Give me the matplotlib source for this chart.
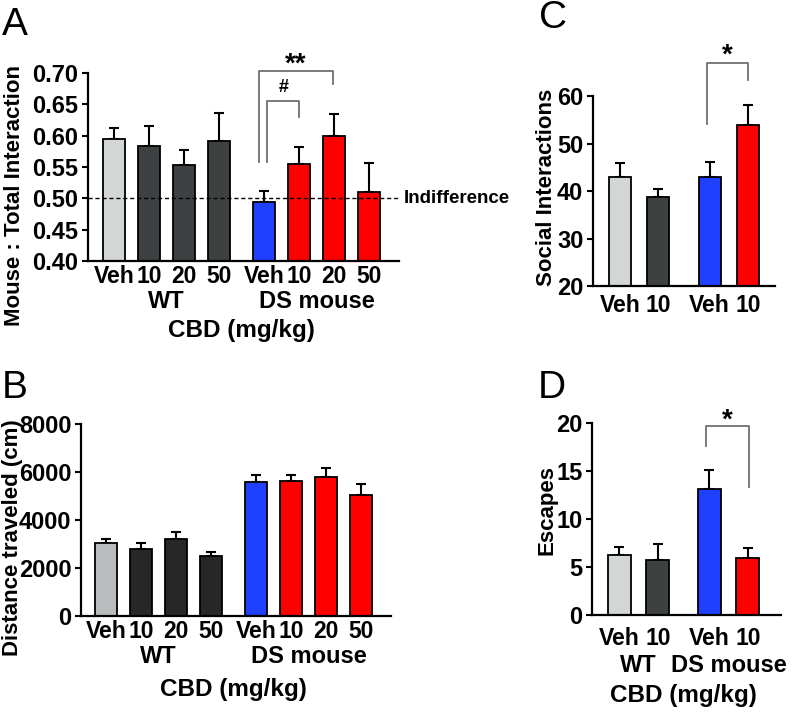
import matplotlib
matplotlib.use("Agg")
import matplotlib.pyplot as plt

plt.rcParams['font.family'] = ['Liberation Sans', 'DejaVu Sans']
plt.rcParams['font.weight'] = 'bold'
plt.rcParams['axes.labelweight'] = 'bold'

# ---- data ----
dose_labels = ["Veh", "10", "20", "50", "Veh", "10", "20", "50"]
dose_labels_short = ["Veh", "10", "Veh", "10"]
groups = ["WT", "DS mouse"]

# A: mouse : total interaction
a_mean = [0.594, 0.584, 0.553, 0.591, 0.494, 0.554, 0.600, 0.510]
a_sem = [0.018, 0.031, 0.024, 0.045, 0.017, 0.028, 0.034, 0.047]

# B: distance traveled (cm)
b_mean = [3030, 2780, 3210, 2490, 5600, 5620, 5810, 5060]
b_sem = [180, 280, 310, 170, 280, 260, 370, 430]

# C: social interactions
c_mean = [42.9, 38.7, 42.9, 54.0]
c_sem = [2.9, 1.7, 3.2, 4.2]

# D: escapes
d_mean = [6.26, 5.74, 13.11, 5.91]
d_sem = [0.80, 1.67, 2.02, 1.08]

LIGHT = "#d3d6d6"
DARK = "#3d4141"
BLUE = "#2040ff"
RED = "#ff0000"
BRACKET = "#707070"

colors_8 = [LIGHT, DARK, DARK, DARK, BLUE, RED, RED, RED]
colors_8b = ["#b9bdbd", "#262828", "#262828", "#262828", BLUE, RED, RED, RED]
colors_4 = [LIGHT, DARK, BLUE, RED]

pos8 = [0, 1, 2, 3, 4.3, 5.3, 6.3, 7.3]
pos4 = [0, 1, 2.34, 3.34]


def bars(ax, x, mean, sem, colors, width):
    ax.bar(x, mean, width=width, color=colors, edgecolor="black", linewidth=1.3, zorder=2)
    ax.errorbar(x, mean, yerr=[[0] * len(sem), sem], fmt="none", ecolor="black",
                elinewidth=1.5, capsize=3.3, capthick=1.5, zorder=1)
    for s in ("top", "right"):
        ax.spines[s].set_visible(False)
    for s in ("left", "bottom"):
        ax.spines[s].set_linewidth(1.6)
    ax.tick_params(axis="y", direction="out", length=4, width=1.5, labelsize=17, pad=3)
    ax.tick_params(axis="x", length=0, labelsize=16.5, pad=3)
    ax.set_xticks(x)


def ylabel(ax, text, xc, yc):
    ax.set_ylabel(text, fontsize=16, va="center")
    ax.yaxis.set_label_coords(xc, yc)


def bracket(ax, x1, x2, ytop, yl, yr, label, size, ty):
    ax.plot([x1, x1, x2, x2], [yl, ytop, ytop, yr], color=BRACKET, lw=1.3, clip_on=False)
    ax.text((x1 + x2) / 2, ty, label, ha="center", va="center", fontsize=size,
            fontweight="bold", clip_on=False)


def group_labels(ax, x, y_grp, y_cbd):
    tr = ax.get_xaxis_transform()
    half = len(x) // 2
    ax.text(sum(x[:half]) / half, y_grp, groups[0], transform=tr,
            ha="center", va="center", fontsize=17)
    ax.text(sum(x[half:]) / half, y_grp, groups[1], transform=tr,
            ha="center", va="center", fontsize=17)
    ax.text((x[0] + x[-1]) / 2, y_cbd, "CBD (mg/kg)", transform=tr,
            ha="center", va="center", fontsize=17.5)


fig = plt.figure(figsize=(7.96, 7.15), dpi=100)

# ---- A ----
axA = fig.add_axes([0.1106, 0.6350, 0.3907, 0.2629])
bars(axA, pos8, a_mean, a_sem, colors_8, 0.63)
axA.set_xlim(-0.74, 8.16)
axA.set_ylim(0.40, 0.70)
axA.set_yticks([0.40, 0.45, 0.50, 0.55, 0.60, 0.65, 0.70])
axA.set_yticklabels(["0.40", "0.45", "0.50", "0.55", "0.60", "0.65", "0.70"])
axA.set_xticklabels(dose_labels)
axA.axhline(0.5, color="black", lw=1.0, ls=(0, (3, 2)), zorder=3, clip_on=False)
axA.text(8.3, 0.5, "Indifference", ha="left", va="center", fontsize=13.5)
ylabel(axA, "Mouse : Total Interaction", -0.235, 0.346)
group_labels(axA, pos8, -0.218, -0.372)
bracket(axA, 4.15, 6.27, 0.703, 0.558, 0.682, "**", 20, 0.714)
bracket(axA, 4.39, 5.30, 0.655, 0.558, 0.630, "#", 13, 0.677)

# ---- B ----
axB = fig.add_axes([0.1018, 0.1385, 0.3894, 0.2685])
bars(axB, pos8, b_mean, b_sem, colors_8b, 0.63)
axB.set_xlim(-0.71, 8.16)
axB.set_ylim(0, 8000)
axB.set_yticks([0, 2000, 4000, 6000, 8000])
axB.set_xticklabels(dose_labels)
ylabel(axB, "Distance traveled (cm)", -0.222, 0.406)
group_labels(axB, pos8, -0.2135, -0.385)

# ---- C ----
axC = fig.add_axes([0.7450, 0.6000, 0.2286, 0.2657])
bars(axC, pos4, c_mean, c_sem, colors_4, 0.58)
axC.set_xlim(-0.71, 4.05)
axC.set_ylim(20, 60)
axC.set_yticks([20, 30, 40, 50, 60])
axC.set_xticklabels(dose_labels_short)
axC.tick_params(axis="x", pad=6)
ylabel(axC, "Social Interactions", -0.253, 0.52)
bracket(axC, 2.26, 3.34, 66.9, 54.2, 63.4, "*", 20, 68.6)

# ---- D ----
axD = fig.add_axes([0.7437, 0.1399, 0.2374, 0.2685])
bars(axD, pos4, d_mean, d_sem, colors_4, 0.6)
axD.set_xlim(-0.71, 4.2)
axD.set_ylim(0, 20)
axD.set_yticks([0, 5, 10, 15, 20])
axD.set_xticklabels(dose_labels_short)
axD.tick_params(axis="x", pad=9)
ylabel(axD, "Escapes", -0.238, 0.547)
group_labels(axD, pos4, -0.265, -0.42)
bracket(axD, 2.25, 3.37, 19.72, 17.63, 13.29, "*", 20, 20.25)

# panel letters
for lx, ly, letter in [(15, 35, "A"), (15, 398, "B"), (553, 28, "C"), (552, 398, "D")]:
    fig.text(lx / 796, 1 - ly / 715, letter, ha="center", va="baseline",
             fontsize=28, fontweight="normal")

fig.savefig("out.png", dpi=100)
